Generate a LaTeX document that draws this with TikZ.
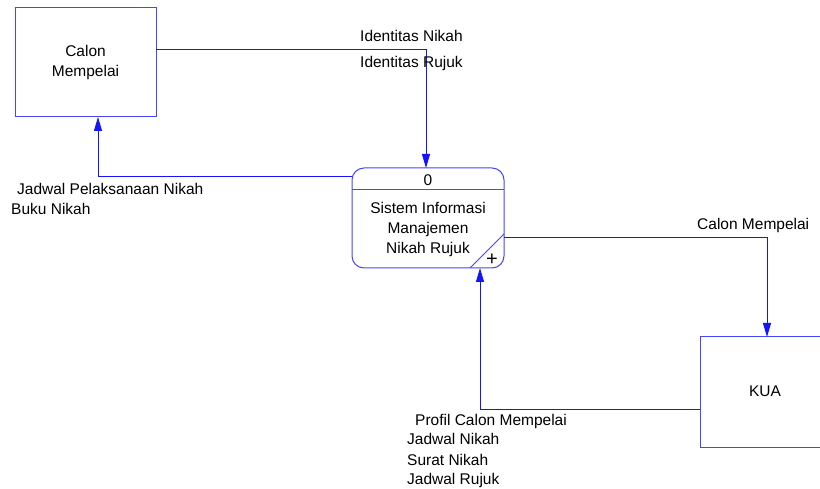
\documentclass[tikz,border=0pt]{standalone}
\usepackage{fontspec}
\setmainfont{Liberation Sans}
\usetikzlibrary{arrows.meta}
\definecolor{dfdblue}{RGB}{20,20,255}
\definecolor{boxblue}{RGB}{70,70,255}
\tikzset{
  x=1pt, y=-1pt,
  entity/.style={draw=boxblue, line width=1pt, fill=white},
  flow/.style={draw=dfdblue, line width=1pt, -{Triangle[length=14pt,width=8pt]}},
  lbl/.style={font=\fontsize{15.5}{18}\selectfont, inner sep=0pt, anchor=west},
  ctr/.style={font=\fontsize{15.5}{18}\selectfont, inner sep=0pt, align=center}
}
\begin{document}
\begin{tikzpicture}
\useasboundingbox (0,0) rectangle (820,489);
% external entities
\draw[entity] (15,8) rectangle (156,117);
\node[ctr] (calon) at (85.5,62) {Calon\\[2pt]Mempelai};
\coordinate (calonB) at (98,117);
\coordinate (calonR) at (156,50);
\draw[entity] (700,337) rectangle (830,447);
\node[ctr] (kua) at (765,391) {KUA};
\coordinate (kuaT) at (767,337);
\coordinate (kuaL) at (700,409);
% process
\draw[entity, rounded corners=12pt] (352,168) rectangle (504,268);
\draw[boxblue, line width=1pt] (352,190) -- (504,190);
\draw[boxblue, line width=1pt] (470,268) -- (504,234);
\node[ctr] (pnum) at (428,180) {0};
\node[ctr] (proc) at (428,229) {Sistem Informasi\\[2pt]Manajemen\\[2pt]Nikah Rujuk};
\node[font=\fontsize{20}{20}\selectfont, inner sep=0pt] (plus) at (492,260) {+};
\coordinate (procT) at (426,168);
\coordinate (procL) at (352,177);
\coordinate (procR) at (504,238);
\coordinate (procB) at (480,268);
% data flows
\draw[flow] (calonR) -| (procT);
\draw[flow] (procL) -| (calonB);
\draw[flow] (procR) -| (kuaT);
\draw[flow] (kuaL) -| (procB);
% flow labels
\node[lbl] (l1) at (360,36) {Identitas Nikah};
\node[lbl] (l2) at (360,63) {Identitas Rujuk};
\node[lbl] (l3) at (17,189) {Jadwal Pelaksanaan Nikah};
\node[lbl] (l4) at (11,209) {Buku Nikah};
\node[lbl] (l5) at (697,225) {Calon Mempelai};
\node[lbl] (l6) at (415,421) {Profil Calon Mempelai};
\node[lbl] (l7) at (407,439) {Jadwal Nikah};
\node[lbl] (l8) at (407,460) {Surat Nikah};
\node[lbl] (l9) at (407,480) {Jadwal Rujuk};
\end{tikzpicture}
\end{document}
